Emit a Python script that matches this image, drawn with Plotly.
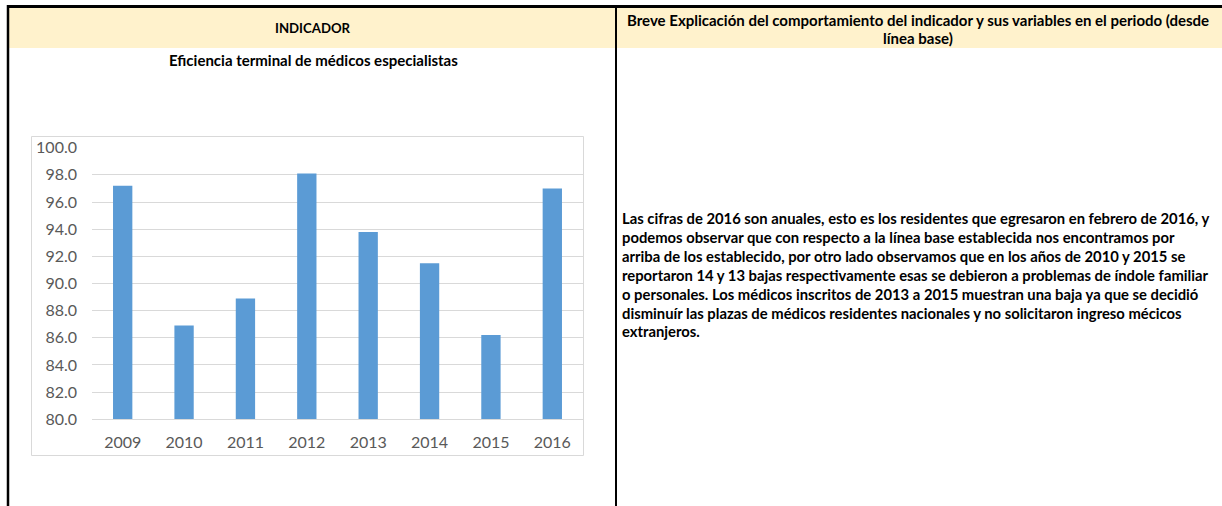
import plotly.graph_objects as go

years = ["2009", "2010", "2011", "2012", "2013", "2014", "2015", "2016"]
values = [97.2, 86.9, 88.9, 98.1, 93.8, 91.5, 86.2, 97.0]
y_ticks = [80, 82, 84, 86, 88, 90, 92, 94, 96, 98, 100]

header_left = "INDICADOR"
header_right = ["Breve Explicación del comportamiento del indicador y sus variables en el periodo (desde",
                "línea base)"]
chart_title = "Eficiencia terminal de médicos especialistas"
body_lines = [
    "Las cifras de 2016 son anuales, esto es los residentes que egresaron en febrero de 2016, y",
    "podemos observar que con respecto a la línea base establecida nos encontramos por",
    "arriba de los establecido, por otro lado observamos que en los años de 2010 y 2015 se",
    "reportaron 14 y 13 bajas respectivamente esas se debieron a problemas de índole familiar",
    "o personales. Los médicos inscritos de 2013 a 2015 muestran una baja ya que se decidió",
    "disminuír las plazas de médicos residentes nacionales y no solicitaron ingreso mécicos",
    "extranjeros.",
]

W, H = 1222, 506
FONT = "Lato"


def px(x):
    return x / W


def py(y):
    return 1 - y / H


fig = go.Figure()
fig.add_trace(go.Bar(x=years, y=values, marker=dict(color="#5B9BD5", line=dict(width=0)),
                     hoverinfo="x+y"))

shapes = []
shapes.append(dict(type="rect", xref="paper", yref="paper", x0=px(9), x1=px(1222), y0=py(48), y1=py(7),
                   fillcolor="#FFF2CC", line=dict(width=0), layer="below"))
shapes.append(dict(type="rect", xref="paper", yref="paper", x0=px(31.5), x1=px(583.5), y0=py(455.5), y1=py(136.5),
                   fillcolor="rgba(0,0,0,0)", line=dict(color="#D9D9D9", width=1), layer="below"))
shapes.append(dict(type="line", xref="paper", yref="paper", x0=px(7), x1=px(1222), y0=py(6.5), y1=py(6.5),
                   line=dict(color="black", width=3)))
shapes.append(dict(type="line", xref="paper", yref="paper", x0=px(8), x1=px(8), y0=py(5), y1=py(506),
                   line=dict(color="black", width=2.5)))
shapes.append(dict(type="line", xref="paper", yref="paper", x0=px(616), x1=px(616), y0=py(5), y1=py(506),
                   line=dict(color="black", width=2)))

annotations = []
annotations.append(dict(text="<b>%s</b>" % header_left, x=px(313), y=py(28), xref="paper", yref="paper",
                        showarrow=False, xanchor="center", yanchor="middle",
                        font=dict(family=FONT, size=13.2, color="black")))
for i, ln in enumerate(header_right):
    annotations.append(dict(text="<b>%s</b>" % ln, x=px(918), y=py(20 + 18 * i), xref="paper", yref="paper",
                            showarrow=False, xanchor="center", yanchor="middle",
                            font=dict(family=FONT, size=15, color="black")))
annotations.append(dict(text="<b>%s</b>" % chart_title, x=px(313), y=py(60), xref="paper", yref="paper",
                        showarrow=False, xanchor="center", yanchor="middle",
                        font=dict(family=FONT, size=15, color="black")))
for i, ln in enumerate(body_lines):
    annotations.append(dict(text="<b>%s</b>" % ln, x=px(620), y=py(218 + 18.9 * i), xref="paper", yref="paper",
                            showarrow=False, xanchor="left", yanchor="middle",
                            font=dict(family=FONT, size=14.8, color="black")))

fig.update_layout(
    width=W, height=H,
    margin=dict(l=0, r=0, t=0, b=0, pad=0, autoexpand=False),
    paper_bgcolor="white", plot_bgcolor="white",
    showlegend=False,
    bargap=0.685,
    shapes=shapes,
    annotations=annotations,
    xaxis=dict(domain=[px(92), px(583)], showgrid=False, showline=True, linecolor="#D9D9D9", linewidth=1,
               ticks="", tickfont=dict(family=FONT, size=16, color="#595959"), ticklabelstandoff=8,
               fixedrange=True, automargin=False),
    yaxis=dict(domain=[py(419.3), py(147.7)], range=[80, 100], tickvals=y_ticks, tickformat=".1f",
               showgrid=True, gridcolor="#D9D9D9", gridwidth=1, zeroline=False, showline=False,
               ticks="", tickfont=dict(family=FONT, size=16, color="#595959"), ticklabelstandoff=14,
               fixedrange=True, automargin=False),
)

post = ("document.documentElement.style.margin='0';document.body.style.margin='0';"
        "document.body.style.padding='0';document.body.style.overflow='hidden';"
        "var d=document.getElementById('{plot_id}');d.style.position='fixed';"
        "d.style.top='0px';d.style.left='0px';")

fig.write_html("out.html", config={"displayModeBar": False}, post_script=post)
